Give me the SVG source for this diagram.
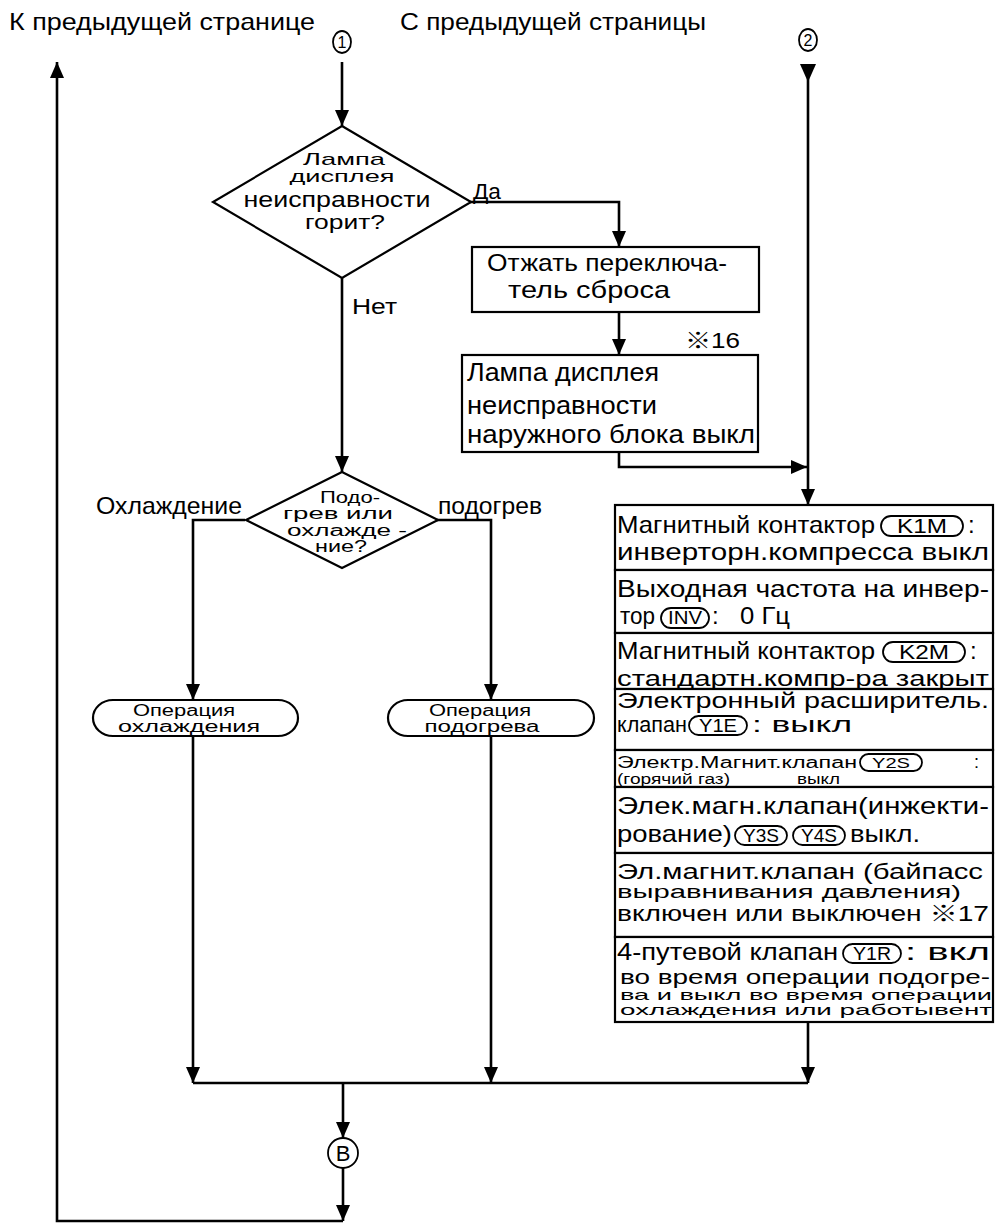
<svg xmlns="http://www.w3.org/2000/svg" width="999" height="1224" viewBox="0 0 999 1224">
<style>
.t{font-family:"Liberation Sans",Arial,"Noto Sans CJK JP",sans-serif;fill:#000}
.c{text-anchor:middle}
.s{fill:#fff;stroke:#000;stroke-width:2.2}
.p{fill:none;stroke:#000;stroke-width:1.8}
.ln{fill:none;stroke:#000;stroke-width:2.6}
.f26{font-size:26px}.f24{font-size:24px}.f22{font-size:22px}.f20{font-size:20px}.f18{font-size:18px}.f16{font-size:16px}
</style>
<defs>
<marker id="arr" viewBox="0 0 16 14" refX="16" refY="7" markerWidth="16" markerHeight="14" markerUnits="userSpaceOnUse" orient="auto">
<path d="M0,0 L16,7 L0,14 z" fill="#000"/>
</marker>
</defs>
<rect width="999" height="1224" fill="#fff"/>

<g id="labels">
<text class="t f24" x="9" y="30" textLength="306" lengthAdjust="spacingAndGlyphs">К предыдущей странице</text>
<text class="t f24" x="400" y="30" textLength="306" lengthAdjust="spacingAndGlyphs">С предыдущей страницы</text>
<text class="t f22" x="473" y="199" textLength="28" lengthAdjust="spacingAndGlyphs">Да</text>
<text class="t f22" x="352" y="314" textLength="45" lengthAdjust="spacingAndGlyphs">Нет</text>
<text class="t f22" x="685" y="348" textLength="55" lengthAdjust="spacingAndGlyphs">※16</text>
<text class="t f24" x="96" y="514" textLength="146" lengthAdjust="spacingAndGlyphs">Охлаждение</text>
<text class="t f24" x="438" y="514" textLength="104" lengthAdjust="spacingAndGlyphs">подогрев</text>
</g>

<g id="conn1">
<ellipse class="p" cx="342" cy="42" rx="9" ry="11"/>
<text class="t c" x="342" y="48" font-size="16">1</text>
</g>
<g id="conn2">
<ellipse class="p" cx="808" cy="40" rx="9" ry="11"/>
<text class="t c" x="808" y="46" font-size="16">2</text>
</g>

<g id="connectors">
<path class="ln" d="M342,62 V126" marker-end="url(#arr)"/>
<path class="ln" d="M470,202 H619 V247" marker-end="url(#arr)"/>
<path class="ln" d="M619,312 V355" marker-end="url(#arr)"/>
<path class="ln" d="M619,452 V467 H807" marker-end="url(#arr)"/>
<path d="M800,64 L816,64 L808,82 z" fill="#000"/>
<path class="ln" d="M808,64 V505" marker-end="url(#arr)"/>
<path class="ln" d="M342,278 V472" marker-end="url(#arr)"/>
<path class="ln" d="M245,520 H193 V700" marker-end="url(#arr)"/>
<path class="ln" d="M437,520 H491 V700" marker-end="url(#arr)"/>
<path class="ln" d="M193,736 V1083" marker-end="url(#arr)"/>
<path class="ln" d="M491,736 V1083" marker-end="url(#arr)"/>
<path class="ln" d="M808,1022 V1083" marker-end="url(#arr)"/>
<path class="ln" d="M193,1083 H808"/>
<path class="ln" d="M343,1083 V1138" marker-end="url(#arr)"/>
<path class="ln" d="M343,1168 V1221" marker-end="url(#arr)"/>
<path class="ln" d="M343,1221 H57 V62" marker-end="url(#arr)"/>
</g>

<g id="decision1">
<polygon class="s" points="342,126 471,202 342,278 213,202"/>
<text class="t c" font-size="17" x="344" y="165" textLength="82" lengthAdjust="spacingAndGlyphs">Лампа</text>
<text class="t c" font-size="17" x="342" y="182" textLength="105" lengthAdjust="spacingAndGlyphs">дисплея</text>
<text class="t c f22" x="337" y="207" textLength="187" lengthAdjust="spacingAndGlyphs">неисправности</text>
<text class="t c f20" x="345" y="229" textLength="80" lengthAdjust="spacingAndGlyphs">горит?</text>
</g>

<g id="reset">
<rect class="s" x="472" y="247" width="287" height="65"/>
<text class="t f24" x="487" y="271" textLength="240" lengthAdjust="spacingAndGlyphs">Отжать переключа-</text>
<text class="t f24" x="508" y="298" textLength="162" lengthAdjust="spacingAndGlyphs">тель сброса</text>
</g>

<g id="lampoff">
<rect class="s" x="462" y="355" width="296" height="97"/>
<text class="t f26" x="467" y="381" textLength="192" lengthAdjust="spacingAndGlyphs">Лампа дисплея</text>
<text class="t f26" x="467" y="414" textLength="190" lengthAdjust="spacingAndGlyphs">неисправности</text>
<text class="t f26" x="467" y="443" textLength="288" lengthAdjust="spacingAndGlyphs">наружного блока выкл</text>
</g>

<g id="decision2">
<polygon class="s" points="342,472 438,520 342,568 246,520"/>
<text class="t c f16" x="350" y="503" textLength="60" lengthAdjust="spacingAndGlyphs">Подо-</text>
<text class="t c f16" x="338" y="519" textLength="110" lengthAdjust="spacingAndGlyphs">грев или</text>
<text class="t c f16" x="347" y="536" textLength="120" lengthAdjust="spacingAndGlyphs">охлажде -</text>
<text class="t c f16" x="341" y="552" textLength="52" lengthAdjust="spacingAndGlyphs">ние?</text>
</g>

<g id="cooling">
<rect class="s" x="93" y="700" width="205" height="36" rx="20" ry="18"/>
<text class="t c f16" x="184" y="716" textLength="102" lengthAdjust="spacingAndGlyphs">Операция</text>
<text class="t c f16" x="189" y="732" textLength="142" lengthAdjust="spacingAndGlyphs">охлаждения</text>
</g>

<g id="heating">
<rect class="s" x="388" y="700" width="206" height="36" rx="20" ry="18"/>
<text class="t c f16" x="480" y="716" textLength="102" lengthAdjust="spacingAndGlyphs">Операция</text>
<text class="t c f16" x="482" y="732" textLength="115" lengthAdjust="spacingAndGlyphs">подогрева</text>
</g>

<g id="s1">
<rect class="s" x="615" y="505" width="378" height="65"/>
<text class="t f24" x="617" y="533" textLength="258" lengthAdjust="spacingAndGlyphs">Магнитный контактор</text>
<rect class="p" x="881" y="516" width="82" height="20" rx="10"/>
<text class="t c f20" x="922" y="533" textLength="50" lengthAdjust="spacingAndGlyphs">K1M</text>
<text class="t f24" x="968" y="533">:</text>
<text class="t f24" x="617" y="560" textLength="372" lengthAdjust="spacingAndGlyphs">инверторн.компресса выкл</text>
</g>

<g id="s2">
<rect class="s" x="615" y="570" width="378" height="63"/>
<text class="t f24" x="617" y="597" textLength="372" lengthAdjust="spacingAndGlyphs">Выходная частота на инвер-</text>
<text class="t f24" x="620" y="624" textLength="35" lengthAdjust="spacingAndGlyphs">тор</text>
<rect class="p" x="661" y="608" width="48" height="20" rx="10"/>
<text class="t c f18" x="685" y="624" textLength="34" lengthAdjust="spacingAndGlyphs">INV</text>
<text class="t f24" x="712" y="624">:</text>
<text class="t f24" x="740" y="624" textLength="50" lengthAdjust="spacingAndGlyphs">0 Гц</text>
</g>

<g id="s3">
<rect class="s" x="615" y="633" width="378" height="56"/>
<text class="t f24" x="617" y="659" textLength="258" lengthAdjust="spacingAndGlyphs">Магнитный контактор</text>
<rect class="p" x="883" y="642" width="82" height="20" rx="10"/>
<text class="t c f20" x="924" y="659" textLength="50" lengthAdjust="spacingAndGlyphs">K2M</text>
<text class="t f24" x="970" y="659">:</text>
<text class="t f22" x="617" y="686" textLength="372" lengthAdjust="spacingAndGlyphs">стандартн.компр-ра закрыт</text>
</g>

<g id="s4">
<rect class="s" x="615" y="689" width="378" height="61"/>
<text class="t f22" x="617" y="708" textLength="372" lengthAdjust="spacingAndGlyphs">Электронный расширитель.</text>
<text class="t f22" x="617" y="732" textLength="70" lengthAdjust="spacingAndGlyphs">клапан</text>
<rect class="p" x="689" y="716" width="58" height="19" rx="9.5"/>
<text class="t c f18" x="718" y="732" textLength="38" lengthAdjust="spacingAndGlyphs">Y1E</text>
<text class="t f22" x="752" y="732" textLength="100" lengthAdjust="spacingAndGlyphs">: выкл</text>
</g>

<g id="s5">
<rect class="s" x="615" y="750" width="378" height="37"/>
<text class="t" font-size="16" x="617" y="768" textLength="240" lengthAdjust="spacingAndGlyphs">Электр.Магнит.клапан</text>
<rect class="p" x="860" y="754" width="62" height="17" rx="8.5"/>
<text class="t c" font-size="15" x="891" y="768" textLength="38" lengthAdjust="spacingAndGlyphs">Y2S</text>
<text class="t" font-size="18" x="974" y="768">:</text>
<text class="t" font-size="14" x="617" y="784" textLength="113" lengthAdjust="spacingAndGlyphs">(горячий газ)</text>
<text class="t" font-size="14" x="797" y="784" textLength="43" lengthAdjust="spacingAndGlyphs">выкл</text>
</g>

<g id="s6">
<rect class="s" x="615" y="787" width="378" height="66"/>
<text class="t f24" x="617" y="814" textLength="372" lengthAdjust="spacingAndGlyphs">Элек.магн.клапан(инжекти-</text>
<text class="t f24" x="617" y="842" textLength="115" lengthAdjust="spacingAndGlyphs">рование)</text>
<rect class="p" x="735" y="826" width="52" height="19" rx="9.5"/>
<text class="t c f18" x="761" y="842" textLength="36" lengthAdjust="spacingAndGlyphs">Y3S</text>
<rect class="p" x="793" y="826" width="52" height="19" rx="9.5"/>
<text class="t c f18" x="819" y="842" textLength="36" lengthAdjust="spacingAndGlyphs">Y4S</text>
<text class="t f24" x="850" y="842" textLength="70" lengthAdjust="spacingAndGlyphs">выкл.</text>
</g>

<g id="s7">
<rect class="s" x="615" y="853" width="378" height="84"/>
<text class="t f22" x="617" y="879" textLength="366" lengthAdjust="spacingAndGlyphs">Эл.магнит.клапан (байпасс</text>
<text class="t" font-size="18" x="617" y="898" textLength="344" lengthAdjust="spacingAndGlyphs">выравнивания давления)</text>
<text class="t f22" x="617" y="921" textLength="372" lengthAdjust="spacingAndGlyphs">включен или выключен ※17</text>
</g>

<g id="s8">
<rect class="s" x="615" y="937" width="378" height="85"/>
<text class="t f24" x="617" y="960" textLength="221" lengthAdjust="spacingAndGlyphs">4-путевой клапан</text>
<rect class="p" x="843" y="944" width="58" height="19" rx="9.5"/>
<text class="t c f18" x="872" y="960" textLength="38" lengthAdjust="spacingAndGlyphs">Y1R</text>
<text class="t f24" x="905" y="960" textLength="85" lengthAdjust="spacingAndGlyphs">: вкл</text>
<text class="t f20" x="620" y="984" textLength="370" lengthAdjust="spacingAndGlyphs">во время операции подогре-</text>
<text class="t" font-size="15" x="620" y="1000" textLength="372" lengthAdjust="spacingAndGlyphs">ва и выкл во время операции</text>
<text class="t" font-size="14" x="620" y="1015" textLength="372" lengthAdjust="spacingAndGlyphs">охлаждения или работывент</text>
</g>

<g id="connB">
<circle class="p" cx="343" cy="1153" r="15"/>
<text class="t c f22" x="343" y="1161">B</text>
</g>
</svg>
